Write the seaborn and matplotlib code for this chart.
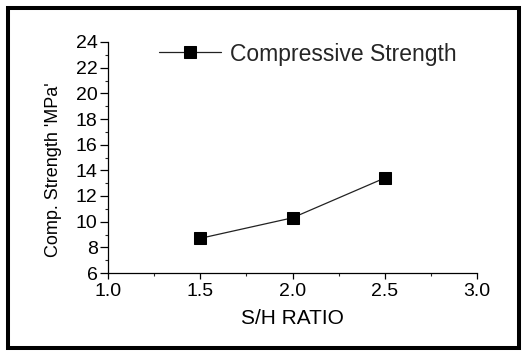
import matplotlib
matplotlib.use("Agg")
import matplotlib.pyplot as plt
from matplotlib.patches import Rectangle
from matplotlib.ticker import MultipleLocator
import seaborn as sns
import pandas as pd

# data
ratio = [1.5, 2.0, 2.5]
strength = [8.7, 10.3, 13.4]
series_name = "Compressive Strength"
x_ticks = [1.0, 1.5, 2.0, 2.5, 3.0]
y_ticks = [6, 8, 10, 12, 14, 16, 18, 20, 22, 24]

sns.set_style("ticks")
plt.rcParams["font.family"] = ["Liberation Sans", "DejaVu Sans"]

df = pd.DataFrame({"ratio": ratio, "strength": strength})

fig = plt.figure(figsize=(5.24, 3.52), dpi=100)
ax = fig.add_axes([108 / 524, 1 - 273 / 352, 369 / 524, 231 / 352])

sns.lineplot(data=df, x="ratio", y="strength", ax=ax, color="#222222",
             linewidth=0.9, marker="s", markersize=8.5, markerfacecolor="black",
             markeredgecolor="black", label=series_name)

ax.set_xlim(1.0, 3.0)
ax.set_ylim(6, 24)
ax.set_xticks(x_ticks)
ax.set_xticklabels([f"{v:.1f}" for v in x_ticks])
ax.set_yticks(y_ticks)
ax.set_yticklabels([str(v) for v in y_ticks])
ax.xaxis.set_minor_locator(MultipleLocator(0.25))
ax.yaxis.set_minor_locator(MultipleLocator(1))

for s in ["top", "right"]:
    ax.spines[s].set_visible(False)
for s in ["left", "bottom"]:
    ax.spines[s].set_linewidth(0.9)
    ax.spines[s].set_color("black")

ax.tick_params(axis="x", which="major", length=4, width=0.9, labelsize=14, pad=3.5, colors="black")
ax.tick_params(axis="x", which="minor", length=2.5, width=0.8)
ax.tick_params(axis="y", which="major", length=6, width=0.9, labelsize=14, pad=1.5, colors="black")
ax.tick_params(axis="y", which="minor", length=2.5, width=0.8)

ax.set_xlabel("S/H RATIO", fontsize=15, labelpad=6, color="black")
ax.set_ylabel("Comp. Strength 'MPa'", fontsize=13, color="black")
ax.yaxis.set_label_coords(-0.125, 0.446)

leg = ax.legend(loc="center left", bbox_to_anchor=(0.138, 0.948), frameon=False,
                fontsize=16.5, handlelength=2.7, handletextpad=0.4,
                borderpad=0, borderaxespad=0)

fig.add_artist(Rectangle((8 / 524, 4 / 352), 511 / 524, 340 / 352,
                         transform=fig.transFigure, fill=False,
                         edgecolor="black", linewidth=2.9))

fig.savefig("out.png", dpi=100)
